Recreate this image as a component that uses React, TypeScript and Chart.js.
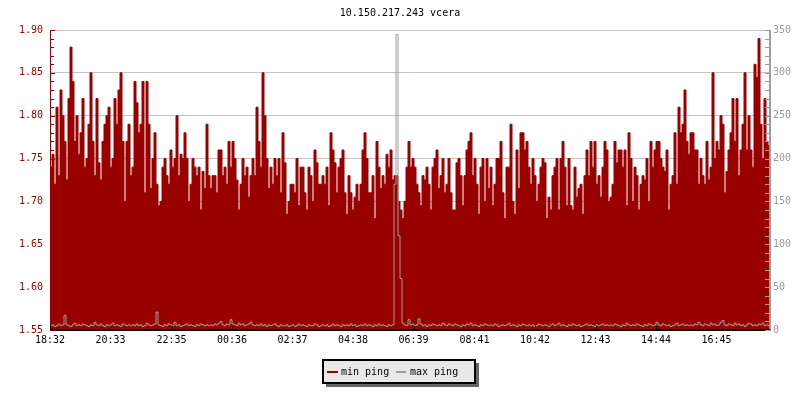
import { useEffect, useRef } from "react";
import { Chart, registerables } from "chart.js";

Chart.register(...registerables);

const chartTitle = "10.150.217.243 vcera";
const startTime = "18:32";
const sampleMinutes = 4;
const tickLabels = ["18:32", "20:33", "22:35", "00:36", "02:37", "04:38", "06:39", "08:41", "10:42", "12:43", "14:44", "16:45"];
const seriesNames = ["min ping", "max ping"];

// min ping (left axis), one value per 4 minutes
const minPing = [
  // 18:32 - 20:00
  1.74, 1.755, 1.72, 1.81, 1.73, 1.83, 1.80, 1.77, 1.725, 1.82, 1.88, 1.84, 1.77, 1.80, 1.755, 1.78, 1.82, 1.74, 1.75, 1.79,
  1.85, 1.77, 1.73, 1.82, 1.745, 1.725, 1.77, 1.79, 1.80, 1.81, 1.74, 1.75, 1.82, 1.79, 1.83, 1.85, 1.77, 1.70, 1.77, 1.79,
  1.73, 1.74, 1.84, 1.815, 1.78, 1.79, 1.84,
  1.71, 1.84, 1.79, 1.715, 1.75, 1.78, 1.72, 1.695, 1.70, 1.74, 1.75, 1.73, 1.72, 1.76, 1.74, 1.75, 1.80, 1.73, 1.755, 1.75,
  1.78, 1.75, 1.70, 1.72, 1.75, 1.74, 1.73, 1.74, 1.69, 1.735, 1.715, 1.79, 1.73, 1.715, 1.73, 1.73, 1.71, 1.76, 1.76, 1.73,
  1.74, 1.72, 1.77,
  // 00:32 - 06:28
  1.74, 1.77, 1.75, 1.725, 1.69, 1.72, 1.75, 1.73, 1.74, 1.705,
  1.73, 1.75, 1.73, 1.81, 1.77, 1.74, 1.85, 1.80, 1.75, 1.715,
  1.74, 1.72, 1.75, 1.73, 1.75, 1.71, 1.78, 1.745, 1.685, 1.70,
  1.72, 1.72, 1.71, 1.75, 1.695, 1.74, 1.74, 1.71, 1.69, 1.74,
  1.73, 1.70, 1.76, 1.745, 1.72, 1.72, 1.73, 1.72, 1.74, 1.695,
  1.78, 1.76, 1.745, 1.71, 1.74, 1.75, 1.76, 1.71, 1.685, 1.73,
  1.71, 1.69, 1.705, 1.72, 1.70, 1.72, 1.76, 1.78, 1.75, 1.71,
  1.71, 1.73, 1.68, 1.77, 1.74, 1.715, 1.73, 1.72, 1.755, 1.74,
  1.76, 1.725, 1.73, 1.73, 1.70, 1.69, 1.68, 1.70, 1.74, 1.77,
  // 06:32 - 12:28
  1.74, 1.75, 1.74, 1.72, 1.71, 1.695, 1.73, 1.725, 1.74, 1.72,
  1.69, 1.74, 1.75, 1.76, 1.715, 1.73, 1.75, 1.71, 1.72, 1.75,
  1.71, 1.69, 1.69, 1.745, 1.75, 1.73, 1.695, 1.73, 1.76, 1.77,
  1.78, 1.73, 1.75, 1.72, 1.685, 1.74, 1.75, 1.70, 1.75, 1.715,
  1.74, 1.695, 1.72, 1.75, 1.75, 1.77, 1.71, 1.68, 1.74, 1.74,
  1.79, 1.70, 1.685, 1.76, 1.715, 1.78, 1.78, 1.76, 1.77, 1.74,
  1.72, 1.75, 1.73, 1.70, 1.72, 1.74, 1.75, 1.745, 1.68, 1.705,
  1.69, 1.73, 1.74, 1.75, 1.69, 1.75, 1.77, 1.74, 1.695, 1.75,
  1.695, 1.69, 1.74, 1.705, 1.715, 1.72, 1.685, 1.73, 1.76, 1.73,
  // 12:32 - 18:28
  1.77, 1.74, 1.77, 1.72, 1.73, 1.705, 1.74, 1.77, 1.76, 1.70,
  1.705, 1.72, 1.77, 1.745, 1.76, 1.76, 1.74, 1.76, 1.695, 1.78,
  1.75, 1.70, 1.74, 1.73, 1.69, 1.72, 1.73, 1.725, 1.75, 1.70,
  1.77, 1.74, 1.76, 1.77, 1.77, 1.75, 1.74, 1.735, 1.76, 1.69,
  1.72, 1.73, 1.78, 1.72, 1.81, 1.78, 1.79, 1.83, 1.77, 1.755,
  1.78, 1.78, 1.76, 1.76, 1.72, 1.75, 1.73, 1.72, 1.77, 1.725,
  1.74, 1.85, 1.75, 1.77, 1.76, 1.80, 1.79, 1.71, 1.735, 1.76,
  1.78, 1.82, 1.77, 1.82, 1.73, 1.76, 1.79, 1.85, 1.76, 1.80,
  1.76, 1.74, 1.86, 1.845, 1.89, 1.79, 1.75, 1.82, 1.77, 1.765,
];

// max ping (right axis), one value per 4 minutes
const maxPing = [
  5, 6, 4, 5, 7, 5, 6, 17, 6, 5, 4, 6, 8, 5, 6, 5, 7, 6, 5, 4, 6, 5, 9, 6, 5, 7, 5, 4, 6, 5, 6, 8, 5, 6, 5, 4, 7, 6, 5, 6,
  5, 6, 5, 7, 5, 6, 4, 5, 8, 6, 5, 6, 7, 21, 6, 5, 4, 6, 5, 7, 6, 5, 9, 5, 6, 4, 5, 6, 7, 5, 6, 5, 4, 6, 5, 7, 6, 5, 6, 5,
  6, 5, 7, 6, 8, 10, 6, 5, 7, 6, 12, 7, 6, 5, 8, 6, 7, 5, 6, 7, 9, 6, 5, 6, 5, 7, 5, 6, 4, 6, 5, 6, 7, 5, 4, 6, 5, 5, 6, 4,
  5, 6, 4, 5, 7, 5, 6, 5, 4, 6, 5, 5, 7, 6, 4, 5, 6, 5, 6, 4, 5, 7, 5, 6, 5, 4, 6, 5, 6, 5, 7, 5, 6, 4, 5, 6, 5, 7, 5, 6,
  5, 4, 6, 5, 7, 5, 6, 5, 4, 6, 5, 6, 170, 345, 110, 60, 8, 6, 5, 12, 6, 7, 5, 6, 13, 7, 5, 6, 4, 6, 5, 7, 6, 5, 6, 5, 8, 6, 5, 7,
  6, 5, 7, 6, 5, 4, 6, 5, 7, 6, 8, 5, 6, 5, 4, 6, 5, 7, 6, 5, 6, 5, 7, 6, 4, 5, 6, 5, 6, 8, 5, 6, 5, 4, 6, 5, 7, 6, 5, 6,
  5, 6, 4, 5, 7, 6, 5, 6, 5, 4, 6, 7, 5, 6, 8, 5, 6, 5, 4, 6, 5, 7, 6, 5, 6, 4, 5, 6, 7, 5, 6, 5, 4, 6, 5, 6, 7, 5, 6, 5,
  6, 5, 7, 6, 5, 4, 6, 5, 8, 6, 5, 6, 5, 7, 6, 5, 4, 6, 5, 7, 6, 5, 6, 9, 6, 5, 7, 6, 5, 6, 4, 5, 6, 8, 5, 6, 7, 5, 6, 5,
  6, 5, 7, 6, 9, 6, 5, 7, 6, 5, 8, 6, 7, 5, 6, 9, 11, 6, 5, 7, 6, 5, 8, 6, 7, 5, 6, 4, 6, 8, 7, 5, 6, 5, 7, 6, 8, 5, 6, 5,
];

const FONT_FAMILY = '"DejaVu Sans Mono", monospace';
const FONT = '10px ' + FONT_FAMILY;
const RED = "#990000";
const GREY = "#9c9c9c";
const GRID = "#c4c4c4";

function toMinutes(s: string) {
  const [h, m] = s.split(":").map(Number);
  return h * 60 + m;
}
const startMin = toMinutes(startTime);
const tickMinutes = tickLabels.map((l) => (toMinutes(l) - startMin + 1440) % 1440);

const decorPlugin = {
  id: "decor",
  afterDatasetsDraw(chart: any) {
    const { ctx, chartArea: a, scales } = chart;
    const ys = scales.y;
    const y1s = scales.y1;
    const xs = scales.x;
    ctx.save();
    ctx.lineWidth = 1;
    // left axis with inward ticks
    ctx.strokeStyle = RED;
    ctx.beginPath();
    ctx.moveTo(a.left + 0.5, a.top);
    ctx.lineTo(a.left + 0.5, a.bottom);
    for (let k = 0; k <= 35; k++) {
      const py = Math.round(ys.getPixelForValue(ys.min + k * 0.01)) + 0.5;
      const len = k % 5 === 0 ? 5 : 4;
      ctx.moveTo(a.left, py);
      ctx.lineTo(a.left + len, py);
    }
    ctx.stroke();
    // right axis with inward ticks
    ctx.strokeStyle = GREY;
    ctx.beginPath();
    ctx.moveTo(a.right - 0.5, a.top);
    ctx.lineTo(a.right - 0.5, a.bottom);
    for (let k = 0; k <= 35; k++) {
      const py = Math.round(y1s.getPixelForValue(k * 10)) + 0.5;
      ctx.moveTo(a.right - 5, py);
      ctx.lineTo(a.right, py);
    }
    ctx.stroke();
    // bottom axis
    ctx.strokeStyle = "#000";
    ctx.beginPath();
    ctx.moveTo(a.left, a.bottom - 0.5);
    ctx.lineTo(a.right, a.bottom - 0.5);
    tickMinutes.forEach((m) => {
      const px = Math.round(xs.getPixelForValue(m)) + 0.5;
      ctx.moveTo(px, a.bottom);
      ctx.lineTo(px, a.bottom - 4);
    });
    ctx.stroke();
    ctx.restore();
  },
  afterDraw(chart: any) {
    const { ctx } = chart;
    ctx.save();
    ctx.font = FONT;
    ctx.fillStyle = "#000";
    ctx.textAlign = "center";
    ctx.textBaseline = "middle";
    ctx.fillText(chartTitle, 400, 13);
    // legend box
    ctx.fillStyle = "#666666";
    ctx.fillRect(326, 363, 153, 24);
    ctx.fillStyle = "#e8e8e8";
    ctx.fillRect(322, 359, 154, 25);
    ctx.strokeStyle = "#000";
    ctx.lineWidth = 2;
    ctx.strokeRect(323, 360, 152, 23);
    ctx.fillStyle = RED;
    ctx.fillRect(327, 371, 11, 2);
    ctx.fillStyle = GREY;
    ctx.fillRect(396, 371, 10, 2);
    ctx.fillStyle = "#000";
    ctx.textAlign = "left";
    ctx.fillText(seriesNames[0], 341, 372);
    ctx.fillText(seriesNames[1], 410, 372);
    ctx.restore();
  },
};

export default function App() {
  const ref = useRef<HTMLCanvasElement | null>(null);
  useEffect(() => {
    document.body.style.margin = "0";
    const canvas = ref.current;
    if (!canvas) return;
    const chart = new Chart(canvas, {
      type: "line",
      data: {
        datasets: [
          {
            label: seriesNames[0],
            data: minPing.map((v, i) => ({ x: i * sampleMinutes + sampleMinutes / 2, y: v })),
            yAxisID: "y",
            stepped: "middle",
            fill: "start",
            backgroundColor: RED,
            borderColor: RED,
            borderWidth: 1,
            pointRadius: 0,
            order: 2,
          },
          {
            label: seriesNames[1],
            data: maxPing.map((v, i) => ({ x: i * sampleMinutes + sampleMinutes / 2, y: v })),
            yAxisID: "y1",
            stepped: "middle",
            fill: false,
            borderColor: GREY,
            borderWidth: 1,
            pointRadius: 0,
            order: 1,
          },
        ],
      } as any,
      options: {
        animation: false,
        responsive: false,
        devicePixelRatio: 1,
        layout: { padding: { top: 30, left: 0, right: 0, bottom: 0 } },
        plugins: { legend: { display: false }, tooltip: { enabled: false }, title: { display: false } },
        scales: {
          x: {
            type: "linear",
            min: 0,
            max: 1440,
            afterBuildTicks: (s: any) => {
              s.ticks = tickMinutes.map((v) => ({ value: v }));
            },
            afterFit: (s: any) => {
              s.height = 70;
            },
            grid: { drawOnChartArea: false, drawTicks: false },
            border: { color: "#000" },
            ticks: {
              autoSkip: false,
              maxRotation: 0,
              padding: 4,
              color: "#000",
              font: { family: FONT_FAMILY, size: 10 },
              callback: (_v: any, i: number) => tickLabels[i],
            },
          },
          y: {
            position: "left",
            min: 1.55,
            max: 1.9,
            afterFit: (s: any) => {
              s.width = 50;
            },
            grid: { color: GRID, drawTicks: false },
            border: { color: RED },
            ticks: {
              stepSize: 0.05,
              padding: 7,
              color: RED,
              font: { family: FONT_FAMILY, size: 10 },
              callback: (v: any) => Number(v).toFixed(2),
            },
          },
          y1: {
            position: "right",
            min: 0,
            max: 350,
            afterFit: (s: any) => {
              s.width = 30;
            },
            grid: { drawOnChartArea: false, drawTicks: false },
            border: { color: GREY },
            ticks: {
              stepSize: 50,
              padding: 3,
              color: GREY,
              font: { family: FONT_FAMILY, size: 10 },
            },
          },
        },
      } as any,
      plugins: [decorPlugin],
    });
    return () => chart.destroy();
  }, []);
  return <canvas ref={ref} width={800} height={400} style={{ display: "block", width: 800, height: 400 }} />;
}
